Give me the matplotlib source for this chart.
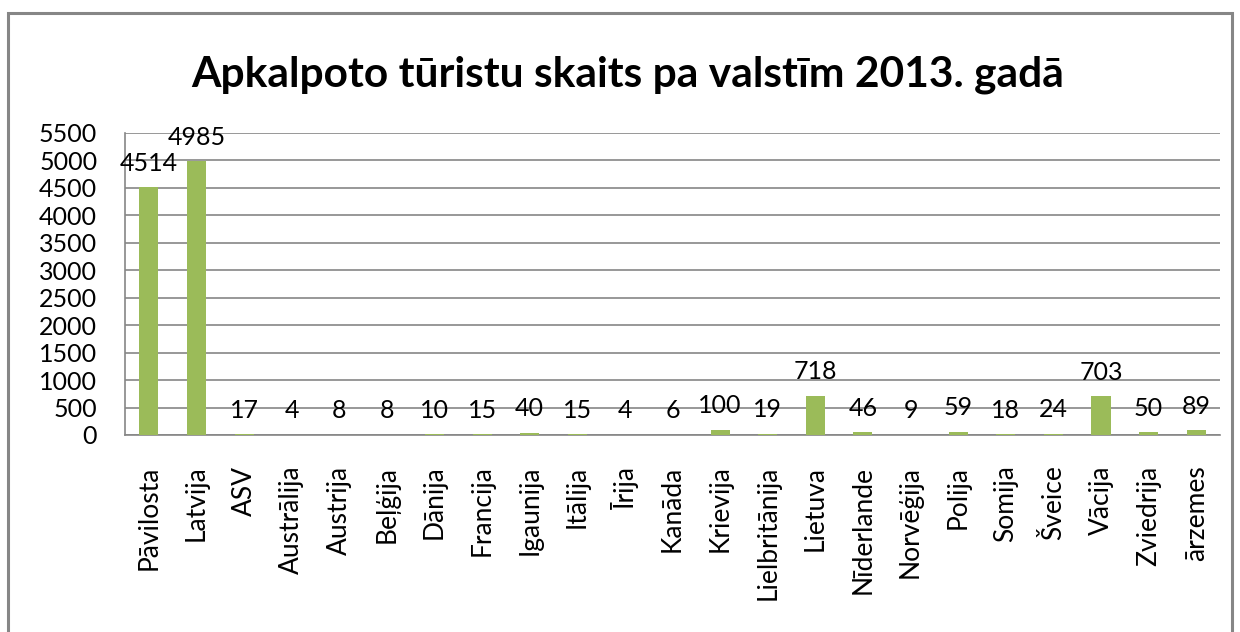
import matplotlib
matplotlib.use("Agg")
import matplotlib.pyplot as plt
from matplotlib.patches import Rectangle

categories = ["Pāvilosta", "Latvija", "ASV", "Austrālija", "Austrija", "Beļģija",
              "Dānija", "Francija", "Igaunija", "Itālija", "Īrija", "Kanāda",
              "Krievija", "Lielbritānija", "Lietuva", "Nīderlande", "Norvēģija",
              "Polija", "Somija", "Šveice", "Vācija", "Zviedrija", "ārzemes"]
values = [4514, 4985, 17, 4, 8, 8, 10, 15, 40, 15, 4, 6, 100, 19, 718, 46, 9,
          59, 18, 24, 703, 50, 89]
yticks = list(range(0, 5501, 500))
title = "Apkalpoto tūristu skaits pa valstīm 2013. gadā"

plt.rcParams['font.family'] = ['Lato', 'DejaVu Sans']

fig = plt.figure(figsize=(12.4, 6.32), dpi=100)
fig.patches.append(Rectangle((8/1240, -0.1), (1232-8)/1240, 1.1 - 13/632,
                             transform=fig.transFigure, fill=False,
                             edgecolor='#868686', linewidth=2.2))
ax = fig.add_axes([125/1240, 1-435/632, (1220-125)/1240, (435-133)/632])

x = list(range(len(categories)))
bars = ax.bar(x, values, width=0.4, color='#9BBB59', zorder=3)
for xi, v in zip(x, values):
    ax.annotate(str(v), (xi, v), xytext=(0, 9), textcoords='offset points',
                ha='center', va='bottom', fontsize=18, color='#000000', zorder=4)

ax.set_xlim(-0.5, len(categories) - 0.5)
ax.set_ylim(0, 5500)
ax.set_yticks(yticks)
ax.set_yticklabels([str(t) for t in yticks], fontsize=18)
ax.yaxis.grid(True, color='#868686', linewidth=1.2, zorder=0)
ax.set_axisbelow(True)
ax.set_xticks(x)
ax.set_xticklabels(categories, rotation=90, fontsize=19, va='top', ha='center')
ax.tick_params(axis='y', length=0, pad=20)
ax.tick_params(axis='x', length=0, pad=22)
for s in ['top', 'right']:
    ax.spines[s].set_visible(False)
ax.spines['left'].set_color('#868686')
ax.spines['bottom'].set_color('#868686')
ax.spines['left'].set_linewidth(1.2)
ax.spines['bottom'].set_linewidth(1.2)

fig.text(628/1240, 1-75/632, title, ha='center', va='center', fontsize=30.6,
         fontweight='bold')

fig.savefig("out.png", dpi=100)
